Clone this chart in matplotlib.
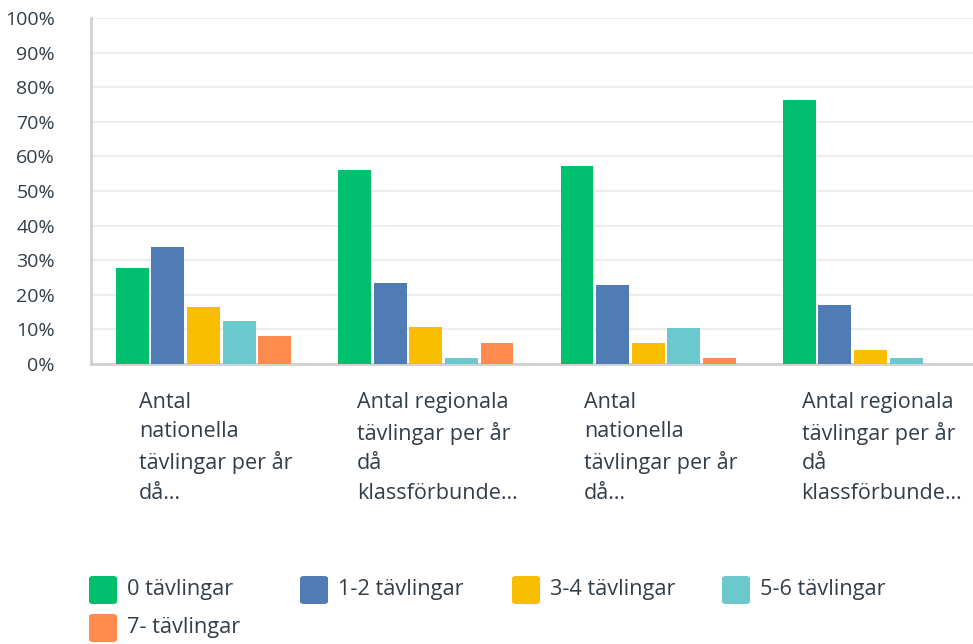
import matplotlib.pyplot as plt
import numpy as np
from matplotlib.patches import FancyBboxPatch
from matplotlib.ticker import FuncFormatter

plt.rcParams['font.family'] = ['Open Sans', 'DejaVu Sans']

# data (percent)
kategorier = [
    "Antal\nnationella\ntävlingar per år\ndå…",
    "Antal regionala\ntävlingar per år\ndå\nklassförbunde…",
    "Antal\nnationella\ntävlingar per år\ndå…",
    "Antal regionala\ntävlingar per år\ndå\nklassförbunde…",
]
serier = ["0 tävlingar", "1-2 tävlingar", "3-4 tävlingar", "5-6 tävlingar", "7- tävlingar"]
noll = [27.8, 56.2, 57.1, 76.2]
ett_tva = [33.9, 23.5, 22.9, 17.1]
tre_fyra = [16.5, 10.7, 6.1, 4.1]
fem_sex = [12.5, 1.7, 10.4, 1.7]
sju = [8.1, 6.1, 1.7, 0.0]
varden = [noll, ett_tva, tre_fyra, fem_sex, sju]

farger = ["#00BF6F", "#507CB6", "#F9BE00", "#6BC8CD", "#FF8B4F"]
textfarg = "#333E48"

fig = plt.figure(figsize=(9.73, 6.44), dpi=100)
ax = fig.add_axes([91 / 973, 1 - 364 / 644, 882 / 973, 346 / 644])

x = np.arange(len(kategorier))
bredd = 0.148
steg = 0.16
for i, (namn, v) in enumerate(zip(serier, varden)):
    ax.bar(x + (i - 2) * steg, v, bredd, color=farger[i], label=namn, zorder=3)

ax.set_xlim(-0.506, 3.461)
ax.set_ylim(0, 100)
ax.set_yticks(np.arange(0, 101, 10))
ax.yaxis.set_major_formatter(FuncFormatter(lambda v, p: f"{int(v)}%"))
ax.grid(axis='y', color='#EDEDED', linewidth=1.5, zorder=0)
ax.tick_params(axis='y', length=0, pad=26, labelsize=14, labelcolor=textfarg)

# vänsterjusterade etiketter under varje grupp
forskjut = [-0.29, -0.31, -0.29, -0.31]
ax.set_xticks(x + np.array(forskjut))
ax.set_xticklabels(kategorier, ha='left', va='top', linespacing=1.52)
ax.tick_params(axis='x', length=0, pad=20, labelsize=15.5, labelcolor=textfarg)

for s in ['top', 'right']:
    ax.spines[s].set_visible(False)
for s in ['left', 'bottom']:
    ax.spines[s].set_color('#D0D0D0')
    ax.spines[s].set_linewidth(2)

# legend drawn in pixel positions
W, H = 973, 644
kol = [89, 300, 512, 722]
rader = [590, 628]
for i, namn in enumerate(serier):
    cx = kol[i % 4]
    cy = rader[i // 4]
    patch = FancyBboxPatch((cx / W, 1 - (cy + 14) / H), 28 / W, 28 / H,
                           boxstyle="round,pad=0,rounding_size=0.004",
                           transform=fig.transFigure, facecolor=farger[i],
                           edgecolor='none')
    fig.patches.append(patch)
    fig.text((cx + 38) / W, 1 - cy / H, namn, fontsize=15.7, color=textfarg,
             va='center', ha='left')

fig.savefig("out.png", dpi=100)
